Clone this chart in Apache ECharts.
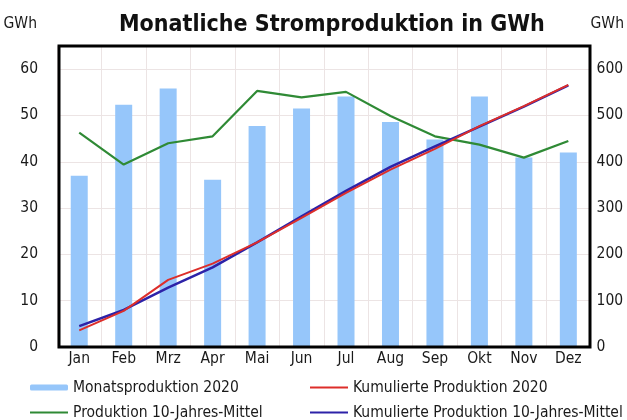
<!DOCTYPE html>
<html>
<head>
<meta charset="utf-8">
<script src="https://cdn.jsdelivr.net/npm/echarts@6/dist/echarts.min.js"></script>
<style>
  html, body { margin: 0; padding: 0; background: #fff; }
  #chart { width: 627px; height: 420px; }
</style>
</head>
<body>
<div id="chart"></div>
<script>
const FONT = '"Liberation Sans Narrow", "DejaVu Sans Condensed", sans-serif';

const MONTHS = ['Jan', 'Feb', 'Mrz', 'Apr', 'Mai', 'Jun', 'Jul', 'Aug', 'Sep', 'Okt', 'Nov', 'Dez'];

// GWh pro Monat (linke Achse)
const PROD_2020 = [37.0, 52.3, 55.8, 36.1, 47.7, 51.5, 54.1, 48.6, 44.8, 54.1, 40.9, 42.0];
const PROD_MITTEL = [46.3, 39.4, 44.0, 45.5, 55.3, 53.9, 55.1, 49.9, 45.5, 43.7, 40.9, 44.5];

// kumuliert (rechte Achse)
const KUM_2020 = [36, 78, 145, 180, 226, 279, 333, 383, 428, 477, 520, 566];
const KUM_MITTEL = [45, 80, 128, 172, 226, 282, 337, 389, 433, 476, 519, 565];

const LEFT_MAX = 65;
const RIGHT_MAX = 650;

const NAMES = [
  'Monatsproduktion 2020',
  'Produktion 10-Jahres-Mittel',
  'Kumulierte Produktion 2020',
  'Kumulierte Produktion 10-Jahres-Mittel'
];

const GRID = { left: 57, top: 46, width: 534, height: 301 };
const FRAME = { x: 59, y: 46, width: 531, height: 301 };
const GRID_COLOR = '#ece4e4';

let chart = echarts.init(document.querySelector('#chart'), null, { renderer: 'canvas' });

let labelStyle = {
  fontFamily: FONT,
  fontSize: 15.5,
  color: '#1a1a1a'
};

let legendBase = {
  orient: 'vertical',
  top: 373,
  height: 60,
  itemWidth: 38,
  itemHeight: 6,
  itemGap: 6,
  textStyle: Object.assign({}, labelStyle, { lineHeight: 19 })
};

// Linien in der Legende ohne Punkt
let lineItem = name => ({ name: name, itemStyle: { opacity: 0 } });

chart.setOption({
  animation: false,
  title: {
    text: 'Monatliche Stromproduktion in GWh',
    left: 114,
    top: 9,
    textStyle: {
      fontFamily: FONT,
      fontSize: 23,
      fontWeight: 'bold',
      color: '#111'
    }
  },
  grid: GRID,
  legend: [
    Object.assign({}, legendBase, { left: 24, data: [NAMES[0], lineItem(NAMES[1])] }),
    Object.assign({}, legendBase, { left: 304, data: [lineItem(NAMES[2]), lineItem(NAMES[3])] })
  ],
  xAxis: {
    type: 'category',
    data: MONTHS,
    boundaryGap: true,
    axisLine: { show: false },
    axisTick: { show: false },
    axisLabel: Object.assign({}, labelStyle, { margin: 4 }),
    splitLine: { show: true, lineStyle: { color: GRID_COLOR, width: 1 } }
  },
  yAxis: [
    {
      type: 'value',
      min: 0,
      max: LEFT_MAX,
      interval: 10,
      name: 'GWh',
      nameLocation: 'end',
      nameGap: 14,
      nameTextStyle: Object.assign({}, labelStyle, { align: 'right', padding: [0, 20, 0, 0] }),
      axisLine: { show: false },
      axisTick: { show: false },
      axisLabel: Object.assign({}, labelStyle, { margin: 19, showMaxLabel: false, padding: [0, 0, 4, 0] }),
      splitLine: { show: true, lineStyle: { color: GRID_COLOR, width: 1 } }
    },
    {
      type: 'value',
      min: 0,
      max: RIGHT_MAX,
      interval: 100,
      position: 'right',
      name: 'GWh',
      nameLocation: 'end',
      nameGap: 14,
      nameTextStyle: Object.assign({}, labelStyle, { align: 'left', padding: [0, 0, 0, 0] }),
      axisLine: { show: false },
      axisTick: { show: false },
      axisLabel: Object.assign({}, labelStyle, { margin: 6, showMaxLabel: false, padding: [0, 0, 4, 0] }),
      splitLine: { show: false }
    }
  ],
  // Rahmen um die Zeichenfläche, über den Gitterlinien
  graphic: [
    {
      type: 'rect',
      z: 100,
      silent: true,
      shape: FRAME,
      style: { fill: 'none', stroke: '#000', lineWidth: 3 }
    }
  ],
  series: [
    {
      name: NAMES[0],
      type: 'bar',
      data: PROD_2020,
      barWidth: 17,
      itemStyle: { color: '#96c6fa' },
      z: 2
    },
    {
      name: NAMES[1],
      type: 'line',
      data: PROD_MITTEL,
      showSymbol: false,
      symbol: 'none',
      lineStyle: { color: '#2f8a35', width: 2.2 },
      itemStyle: { color: '#2f8a35' },
      z: 3
    },
    {
      name: NAMES[3],
      type: 'line',
      yAxisIndex: 1,
      data: KUM_MITTEL,
      showSymbol: false,
      symbol: 'none',
      lineStyle: { color: '#2d22a8', width: 2.5 },
      itemStyle: { color: '#2d22a8' },
      z: 4
    },
    {
      name: NAMES[2],
      type: 'line',
      yAxisIndex: 1,
      data: KUM_2020,
      showSymbol: false,
      symbol: 'none',
      lineStyle: { color: '#dd2e2a', width: 2 },
      itemStyle: { color: '#dd2e2a' },
      z: 5
    }
  ]
});
</script>
</body>
</html>
